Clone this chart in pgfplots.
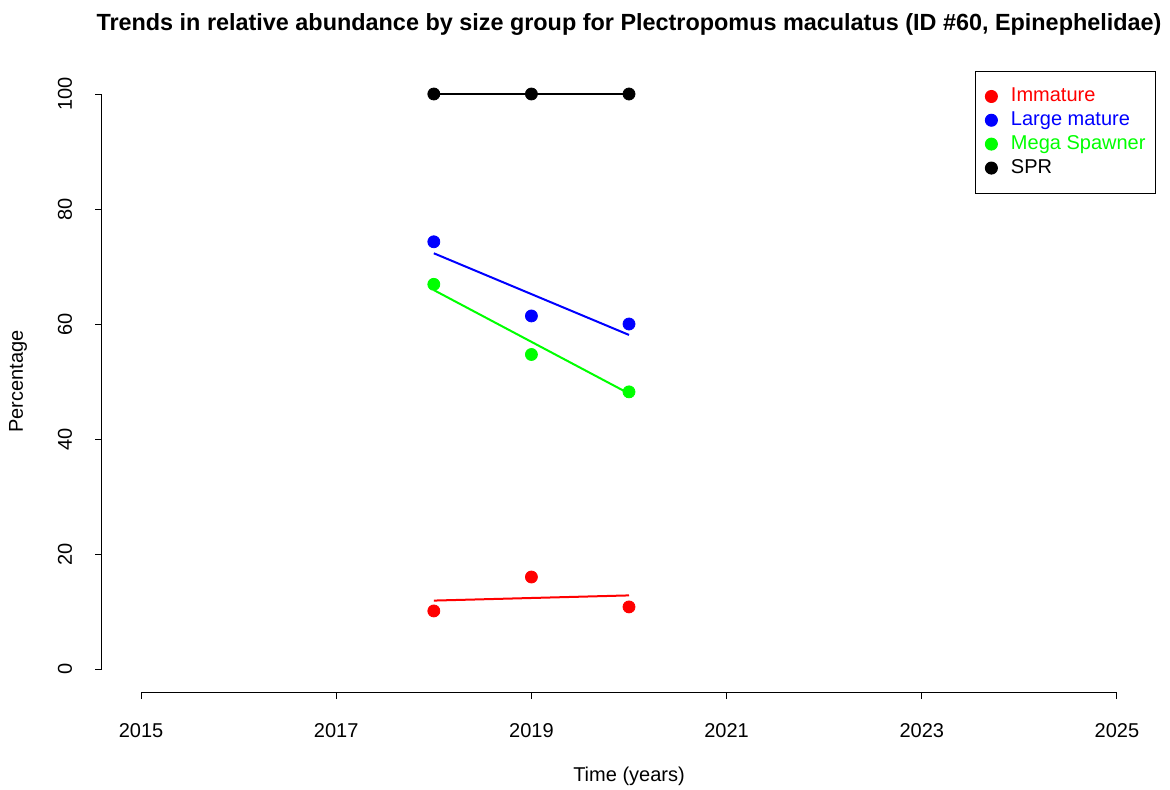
\documentclass[border=0pt]{standalone}
\usepackage{pgfplots}
\pgfplotsset{compat=1.18}
\usepackage{fontspec}
\setmainfont{Liberation Sans}

\definecolor{rred}{RGB}{255,0,0}
\definecolor{rblue}{RGB}{0,0,255}
\definecolor{rgreen}{RGB}{0,255,0}

\begin{document}
\begin{tikzpicture}
\path[use as bounding box] (0,0) rectangle (585pt,394.5pt);
\begin{axis}[
    at={(51pt,48.5pt)}, anchor=south west,
    scale only axis, width=527pt, height=310.5pt,
    xmin=2014.6, xmax=2025.4, ymin=-4, ymax=104,
    clip=false,
    separate axis lines,
    axis x line*=bottom, axis y line*=left,
    axis line style={draw=none},
    xtick={2015,2017,...,2025},
    ytick={0,20,...,100},
    x tick label style={/pgf/number format/1000 sep={}},
    tick align=outside, major tick length=3.5pt,
    tick style={black, line width=0.5pt},
    /pgf/number format/assume math mode=true,
    font=\fontsize{10}{12}\selectfont,
    xticklabel shift=8.5pt,
    yticklabel style={rotate=90, anchor=south},
    yticklabel shift=8pt,
    title={Trends in relative abundance by size group for Plectropomus maculatus (ID \#60, Epinephelidae)},
    title style={font=\fontsize{11.7}{14}\selectfont\bfseries, at={(0.5,1.0789)}, anchor=center, yshift=-7pt},
    xlabel={Time (years)},
    xlabel style={at={(0.5,-0.1353)}, anchor=center},
    ylabel={Percentage},
    ylabel style={at={(-0.0797,0.5)}, anchor=center},
    legend style={at={(1,1)}, anchor=north east, draw=black, line width=0.5pt,
        font=\fontsize{10}{12}\selectfont, row sep=-0.5pt, column sep=6.8pt,
        inner xsep=5pt, inner ysep=6.3pt,
        nodes={inner xsep=0pt}},
    legend cell align=left,
]
% data points
\addplot[only marks, mark=*, mark size=3pt, rred] coordinates {(2018,10.1) (2019,16.0) (2020,10.8)};
\addlegendentry{\textcolor{rred}{Immature}}
\addplot[only marks, mark=*, mark size=3pt, rblue] coordinates {(2018,74.3) (2019,61.4) (2020,60.0)};
\addlegendentry{\textcolor{rblue}{Large mature}}
\addplot[only marks, mark=*, mark size=3pt, rgreen] coordinates {(2018,66.9) (2019,54.7) (2020,48.2)};
\addlegendentry{\textcolor{rgreen}{Mega Spawner}}
\addplot[only marks, mark=*, mark size=3pt, black] coordinates {(2018,100) (2019,100) (2020,100)};
\addlegendentry{SPR}
% trend lines
\addplot[rred, line width=1pt, forget plot] coordinates {(2018,11.9) (2020,12.8)};
\addplot[rblue, line width=1pt, forget plot] coordinates {(2018,72.3) (2020,58.1)};
\addplot[rgreen, line width=1pt, forget plot] coordinates {(2018,65.9) (2020,47.9)};
\addplot[black, line width=1pt, forget plot] coordinates {(2018,100) (2020,100)};
% R-style detached axis lines
\draw[black, line width=0.5pt] (axis cs:2015,-4) -- (axis cs:2025,-4);
\draw[black, line width=0.5pt] (axis cs:2014.6,0) -- (axis cs:2014.6,100);
\end{axis}
\end{tikzpicture}
\end{document}
